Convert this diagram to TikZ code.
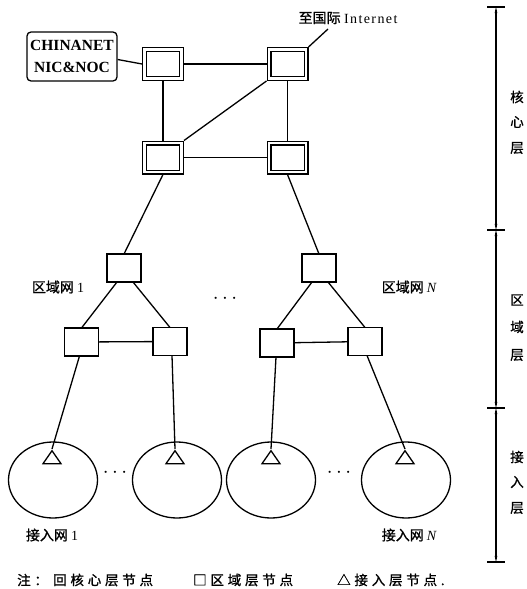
\documentclass[tikz,border=0pt]{standalone}
\usepackage{fontspec}
\setmainfont{Liberation Serif}
\newfontfamily\cjk[FakeBold=1]{Noto Sans CJK SC}
\newfontfamily\cjkwide[FakeBold=1,LetterSpace=28]{Noto Sans CJK SC}
\usetikzlibrary{shapes.geometric,arrows.meta}
\begin{document}
\begin{tikzpicture}[x=1pt,y=-1pt,
  link/.style={line width=1.3pt},
  corenode/.style={draw,line width=1.3pt,double,double distance=2.4pt,
    minimum width=37pt,minimum height=29pt,inner sep=0pt,outer sep=2.5pt},
  regionnode/.style={draw,line width=1.4pt,minimum width=34pt,
    minimum height=28pt,inner sep=0pt,outer sep=0pt},
  accessnet/.style={draw,line width=1.3pt,ellipse,minimum width=89pt,
    minimum height=76pt,inner sep=0pt},
  accessnode/.style={draw,line width=1.3pt,isosceles triangle,
    shape border rotate=90,isosceles triangle stretches,
    minimum height=13pt,minimum width=18pt,inner sep=0pt,anchor=apex},
  zh/.style={font=\cjk\fontsize{14}{14}\selectfont,inner sep=1pt},
  tier/.style={font=\cjk\fontsize{13.5}{14}\selectfont,inner sep=0pt},
  legend/.style={font=\cjkwide\fontsize{13.5}{14}\selectfont,anchor=west,inner sep=0pt},
  dots/.style={font=\bfseries\fontsize{20}{20}\selectfont,inner sep=0pt},
  scalearrow/.style={line width=1.2pt,{Stealth[length=6pt,width=2.6pt]}-{Stealth[length=6pt,width=2.6pt]}},
  tick/.style={line width=1.4pt}
]
\useasboundingbox (0,0) rectangle (527,589);

% core layer
\node[corenode] (c1) at (163,64) {};
\node[corenode] (c2) at (287.5,64) {};
\node[corenode] (c3) at (163,157.5) {};
\node[corenode] (c4) at (287.5,157.5) {};
\node[draw,line width=1.3pt,rounded corners=4pt,minimum width=90pt,
  minimum height=49pt,inner sep=1pt,align=center,
  font=\bfseries\fontsize{15.5}{22}\selectfont] (cn) at (72,56.5) {CHINANET\\NIC\&NOC};
\coordinate (inet) at (328,29);
\node[font=\fontsize{14}{14}\selectfont,inner sep=0pt] (inetlbl) at (348,18)
  {{\cjk 至国际} \addfontfeature{LetterSpace=10}Internet};

\draw[link] ([yshift=-3pt]cn.east) -- (c1.west);
\draw[link] (c1) -- (c2);
\draw[link] (c3) -- (c4);
\draw[link] (c1) -- (c3);
\draw[link] (c2) -- (c4);
\draw[link] (c2.south west) -- (c3.north east);
\draw[link] (c2.north east) -- (inet);

% regional layer
\node[regionnode] (r1) at (124,268) {};
\node[regionnode] (r1a) at (81.5,342) {};
\node[regionnode] (r1b) at (170,341.5) {};
\node[regionnode] (rn) at (319,268) {};
\node[regionnode] (rna) at (277,343) {};
\node[regionnode] (rnb) at (365,341.5) {};

\draw[link] (c3.south) -- (r1.north);
\draw[link] (c4.south) -- (rn.north);
\draw[link] ([xshift=-7pt]r1.south) -- (r1a.north);
\draw[link] ([xshift=9pt]r1.south) -- (r1b.north);
\draw[link] ([xshift=-7pt]rn.south) -- (rna.north);
\draw[link] ([xshift=9pt]rn.south) -- (rnb.north);
\draw[link] (r1a) -- (r1b);
\draw[link] (rna) -- (rnb);

\node[zh] (r1lbl) at (58,287) {区域网 {\rmfamily 1}};
\node[zh] (rnlbl) at (409,287) {区域网 {\rmfamily\itshape N}};
\node[dots] (mdots) at (225,299) {$\cdots$};

% access layer
\node[accessnet] (e1) at (53,480) {};
\node[accessnet] (e2) at (177,480) {};
\node[accessnet] (e3) at (271,480) {};
\node[accessnet] (e4) at (406,480) {};
\node[accessnode] (t1) at (52,449) {};
\node[accessnode] (t2) at (175,449) {};
\node[accessnode] (t3) at (271,449) {};
\node[accessnode] (t4) at (405,449) {};

\draw[link] ([xshift=-2pt]r1a.south) -- (t1.apex);
\draw[link] ([xshift=2pt]r1b.south) -- (t2.apex);
\draw[link] ([xshift=-1pt]rna.south) -- (t3.apex);
\draw[link] ([xshift=2pt]rnb.south) -- (t4.apex);

\node[dots] (ldots) at (115,473) {$\cdots$};
\node[dots] (rdots) at (339,473) {$\cdots$};
\node[zh] (e1lbl) at (52,535) {接入网 {\rmfamily 1}};
\node[zh] (enlbl) at (409,535) {接入网 {\rmfamily\itshape N}};

% tier scale
\coordinate (s0) at (496,7);
\coordinate (s1) at (496,230);
\coordinate (s2) at (496,408);
\coordinate (s3) at (496,562);
\draw[scalearrow] (s0) -- (s1);
\draw[scalearrow] (s1) -- (s2);
\draw[scalearrow] (s2) -- (s3);
\foreach \s in {s0,s1,s2,s3}
  \draw[tick] ([xshift=-9pt]\s) -- ([xshift=9pt]\s);

\node[tier] (k1) at (517,97) {核};
\node[tier] (k2) at (517,122) {心};
\node[tier] (k3) at (517,148) {层};
\node[tier] (q1) at (517,300) {区};
\node[tier] (q2) at (517,327) {域};
\node[tier] (q3) at (517,355) {层};
\node[tier] (j1) at (517,457) {接};
\node[tier] (j2) at (517,482) {入};
\node[tier] (j3) at (517,508) {层};

% legend
\node[legend] (note) at (17,580) {注：};
\node[legend] (lcore) at (53,580) {回核心层节点};
\node[legend] (lreg) at (193,580) {□区域层节点};
\node[legend] (lacc) at (337,580) {△接入层节点.};
\end{tikzpicture}
\end{document}
